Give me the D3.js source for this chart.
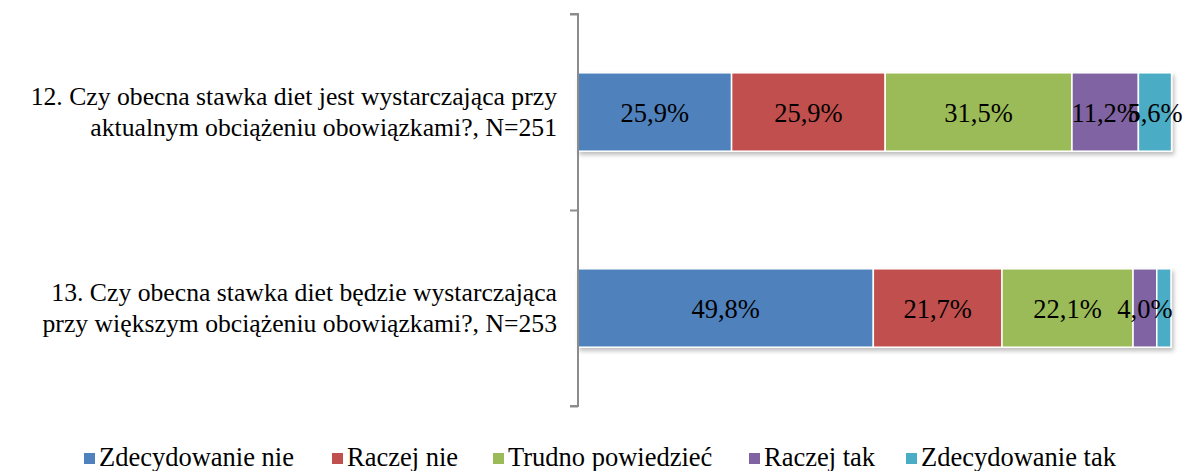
<!doctype html>
<html lang="pl">
  <head>
    <meta charset="utf-8">
    <title>Stawka diet</title>
    <script src="https://d3js.org/d3.v7.min.js"></script>
    <style type="text/css">
      body { margin: 0; background: #fff; }
    </style>
  </head>
  <body>
    <script>
      // data
      var questions = [
        ["12. Czy obecna stawka diet jest wystarczająca przy", "aktualnym obciążeniu obowiązkami?, N=251"],
        ["13. Czy obecna stawka diet będzie wystarczająca", "przy większym obciążeniu obowiązkami?, N=253"]
      ];
      var answers = ["Zdecydowanie nie", "Raczej nie", "Trudno powiedzieć", "Raczej tak", "Zdecydowanie tak"];
      var colors = ["#4F81BD", "#C0504D", "#9BBB59", "#8064A2", "#4BACC6"];
      var values = [
        [25.9, 25.9, 31.5, 11.2, 5.6],
        [49.8, 21.7, 22.1, 4.0, 2.4]
      ];
      var showLabel = [
        [true, true, true, true, true],
        [true, true, true, true, false]
      ];

      var FONT = "'Liberation Serif', 'Times New Roman', serif";
      var FS = "26.5px";
      var w = 1183, h = 471;
      var svg = d3.select("body").append("svg")
        .attr("width", w).attr("height", h);

      var defs = svg.append("defs");
      var f = defs.append("filter").attr("id", "shadow")
        .attr("x", "-5%").attr("y", "-10%").attr("width", "110%").attr("height", "130%");
      f.append("feDropShadow").attr("dx", 2).attr("dy", 3).attr("stdDeviation", 2)
        .attr("flood-color", "#000").attr("flood-opacity", 0.25);

      // scales
      var x = d3.scaleLinear().domain([0, 100]).range([578, 1171]);
      var y = d3.scaleBand().domain(d3.range(questions.length)).range([14, 406]).paddingInner(0.6).paddingOuter(0.3);

      // bars
      values.forEach(function(row, i) {
        var stacked = [];
        var acc = 0;
        row.forEach(function(v, j) {
          stacked.push({ x0: acc, x1: acc + v, v: v, j: j, show: showLabel[i][j] });
          acc += v;
        });
        var g = svg.append("g");
        g.append("g").attr("filter", "url(#shadow)")
          .selectAll("rect").data(stacked).enter().append("rect")
          .attr("x", function(d) { return x(d.x0); })
          .attr("y", y(i))
          .attr("width", function(d) { return x(d.x1) - x(d.x0); })
          .attr("height", y.bandwidth())
          .style("fill", function(d) { return colors[d.j]; })
          .style("stroke", "#fff")
          .style("stroke-width", 1.5);
        g.selectAll("text.lbl").data(stacked.filter(function(d) { return d.show; })).enter()
          .append("text").attr("class", "lbl")
          .attr("x", function(d) { return (x(d.x0) + x(d.x1)) / 2; })
          .attr("y", y(i) + y.bandwidth() / 2 + 10)
          .attr("text-anchor", "middle")
          .style("font-family", FONT)
          .style("font-size", FS)
          .text(function(d) { return d.v.toFixed(1).replace(".", ",") + "%"; });
      });

      // axis
      var yAxisScale = d3.scaleLinear().domain([0, questions.length]).range([14, 406]);
      svg.append("g").attr("transform", "translate(578,0)")
        .call(d3.axisLeft(yAxisScale).ticks(questions.length).tickFormat("").tickSize(8))
        .call(function(g) {
          g.selectAll("path, line").style("stroke", "#8c8c8c").style("stroke-width", 2);
          g.select(".domain").attr("d", "M-8,14H0V406H-8");
        });

      // category labels
      questions.forEach(function(q, i) {
        var cy = y(i) + y.bandwidth() / 2;
        var t = svg.append("text").attr("text-anchor", "end")
          .style("font-family", FONT).style("font-size", "25.7px");
        q.forEach(function(line, k) {
          t.append("tspan").attr("x", 557).attr("y", cy - 7 + k * 31).text(line);
        });
      });

      // legend
      var legX = [84, 332, 493, 749, 906];
      var leg = svg.selectAll("g.leg").data(answers).enter().append("g").attr("class", "leg")
        .attr("transform", function(d, i) { return "translate(" + legX[i] + ",459)"; });
      leg.append("rect").attr("x", 0).attr("y", -6).attr("width", 11).attr("height", 11)
        .style("fill", function(d, i) { return colors[i]; });
      leg.append("text").attr("x", 15).attr("y", 7)
        .style("font-family", FONT).style("font-size", FS).text(function(d) { return d; });
    </script>
  </body>
</html>
